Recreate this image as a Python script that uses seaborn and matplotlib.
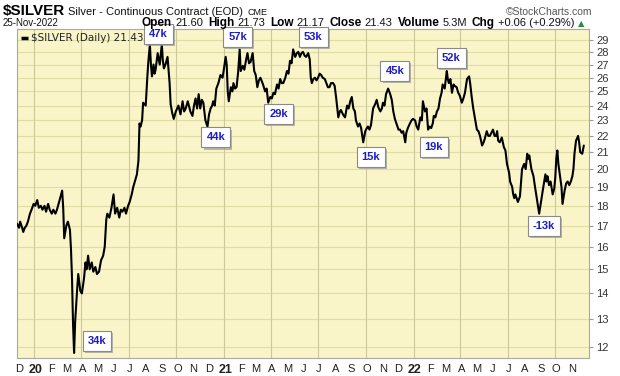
import pandas as pd
import matplotlib
matplotlib.use("Agg")
import matplotlib.pyplot as plt
import matplotlib.patheffects as pe
from matplotlib.ticker import NullLocator
import seaborn as sns

# === DATOS ===
dates = [
    "2019-11-29", "2019-12-03", "2019-12-05", "2019-12-09", "2019-12-11", "2019-12-14", "2019-12-17",
    "2019-12-20", "2019-12-24", "2019-12-27", "2019-12-31", "2020-01-03", "2020-01-07", "2020-01-10",
    "2020-01-14", "2020-01-17", "2020-01-21", "2020-01-24", "2020-01-28", "2020-01-31", "2020-02-04",
    "2020-02-07", "2020-02-11", "2020-02-14", "2020-02-18", "2020-02-21", "2020-02-24", "2020-02-26",
    "2020-02-28", "2020-03-03", "2020-03-06", "2020-03-10", "2020-03-12", "2020-03-14", "2020-03-16",
    "2020-03-18", "2020-03-20", "2020-03-24", "2020-03-26", "2020-03-30", "2020-04-02", "2020-04-06",
    "2020-04-09", "2020-04-11", "2020-04-14", "2020-04-17", "2020-04-21", "2020-04-24", "2020-04-28",
    "2020-05-01", "2020-05-05", "2020-05-09", "2020-05-13", "2020-05-16", "2020-05-19", "2020-05-21",
    "2020-05-25", "2020-05-29", "2020-06-02", "2020-06-05", "2020-06-09", "2020-06-13", "2020-06-16",
    "2020-06-19", "2020-06-23", "2020-06-26", "2020-06-30", "2020-07-03", "2020-07-07", "2020-07-10",
    "2020-07-14", "2020-07-17", "2020-07-20", "2020-07-22", "2020-07-24", "2020-07-27", "2020-07-29",
    "2020-08-03", "2020-08-06", "2020-08-08", "2020-08-11", "2020-08-13", "2020-08-15", "2020-08-18",
    "2020-08-20", "2020-08-22", "2020-08-26", "2020-08-30", "2020-09-01", "2020-09-03", "2020-09-05",
    "2020-09-07", "2020-09-10", "2020-09-14", "2020-09-16", "2020-09-18", "2020-09-20", "2020-09-23",
    "2020-09-26", "2020-09-30", "2020-10-05", "2020-10-09", "2020-10-13", "2020-10-16", "2020-10-19",
    "2020-10-23", "2020-10-28", "2020-11-01", "2020-11-04", "2020-11-07", "2020-11-10", "2020-11-13",
    "2020-11-16", "2020-11-19", "2020-11-22", "2020-11-26", "2020-11-30", "2020-12-03", "2020-12-06",
    "2020-12-09", "2020-12-11", "2020-12-14", "2020-12-17", "2020-12-21", "2020-12-25", "2020-12-29",
    "2020-12-31", "2021-01-04", "2021-01-06", "2021-01-08", "2021-01-10", "2021-01-14", "2021-01-17",
    "2021-01-19", "2021-01-22", "2021-01-25", "2021-01-28", "2021-01-31", "2021-02-02", "2021-02-06",
    "2021-02-09", "2021-02-12", "2021-02-15", "2021-02-18", "2021-02-21", "2021-02-25", "2021-02-28",
    "2021-03-03", "2021-03-06", "2021-03-09", "2021-03-12", "2021-03-17", "2021-03-21", "2021-03-24",
    "2021-03-27", "2021-03-31", "2021-04-03", "2021-04-06", "2021-04-09", "2021-04-13", "2021-04-16",
    "2021-04-19", "2021-04-22", "2021-04-25", "2021-04-29", "2021-05-02", "2021-05-05", "2021-05-08",
    "2021-05-11", "2021-05-14", "2021-05-18", "2021-05-21", "2021-05-24", "2021-05-27", "2021-05-30",
    "2021-06-02", "2021-06-05", "2021-06-08", "2021-06-12", "2021-06-15", "2021-06-17", "2021-06-19",
    "2021-06-22", "2021-06-25", "2021-06-28", "2021-07-01", "2021-07-04", "2021-07-07", "2021-07-10",
    "2021-07-14", "2021-07-17", "2021-07-20", "2021-07-23", "2021-07-26", "2021-07-30", "2021-08-02",
    "2021-08-05", "2021-08-09", "2021-08-12", "2021-08-14", "2021-08-18", "2021-08-22", "2021-08-26",
    "2021-08-29", "2021-09-01", "2021-09-04", "2021-09-07", "2021-09-10", "2021-09-12", "2021-09-16",
    "2021-09-19", "2021-09-22", "2021-09-26", "2021-09-30", "2021-10-03", "2021-10-05", "2021-10-08",
    "2021-10-11", "2021-10-15", "2021-10-19", "2021-10-22", "2021-10-25", "2021-10-29", "2021-11-01",
    "2021-11-03", "2021-11-06", "2021-11-09", "2021-11-13", "2021-11-17", "2021-11-20", "2021-11-23",
    "2021-11-26", "2021-12-01", "2021-12-03", "2021-12-06", "2021-12-09", "2021-12-12", "2021-12-16",
    "2021-12-18", "2021-12-21", "2021-12-25", "2021-12-28", "2021-12-31", "2022-01-04", "2022-01-07",
    "2022-01-10", "2022-01-14", "2022-01-17", "2022-01-19", "2022-01-23", "2022-01-26", "2022-01-29",
    "2022-02-01", "2022-02-04", "2022-02-07", "2022-02-09", "2022-02-12", "2022-02-15", "2022-02-18",
    "2022-02-21", "2022-02-24", "2022-02-26", "2022-03-02", "2022-03-06", "2022-03-08", "2022-03-10",
    "2022-03-13", "2022-03-16", "2022-03-19", "2022-03-21", "2022-03-25", "2022-03-28", "2022-03-31",
    "2022-04-04", "2022-04-07", "2022-04-10", "2022-04-14", "2022-04-18", "2022-04-20", "2022-04-23",
    "2022-04-26", "2022-04-29", "2022-05-03", "2022-05-06", "2022-05-09", "2022-05-13", "2022-05-16",
    "2022-05-18", "2022-05-22", "2022-05-25", "2022-05-28", "2022-05-31", "2022-06-03", "2022-06-06",
    "2022-06-09", "2022-06-11", "2022-06-13", "2022-06-16", "2022-06-20", "2022-06-24", "2022-06-27",
    "2022-06-30", "2022-07-04", "2022-07-06", "2022-07-10", "2022-07-12", "2022-07-14", "2022-07-16",
    "2022-07-21", "2022-07-25", "2022-07-29", "2022-08-02", "2022-08-05", "2022-08-08", "2022-08-10",
    "2022-08-12", "2022-08-16", "2022-08-20", "2022-08-23", "2022-08-27", "2022-08-31", "2022-09-04",
    "2022-09-08", "2022-09-12", "2022-09-14", "2022-09-16", "2022-09-19", "2022-09-22", "2022-09-26",
    "2022-09-29", "2022-10-01", "2022-10-03", "2022-10-05", "2022-10-07", "2022-10-11", "2022-10-13",
    "2022-10-15", "2022-10-19", "2022-10-22", "2022-10-25", "2022-10-28", "2022-10-31", "2022-11-03",
    "2022-11-05", "2022-11-07", "2022-11-10", "2022-11-14", "2022-11-16", "2022-11-18", "2022-11-22",
    "2022-11-25",
]

prices = [
    17.1, 16.9, 17.2, 16.9, 16.7, 16.9, 17.0,
    17.2, 17.6, 17.8, 18.1, 18.0, 18.3, 17.9,
    18.0, 17.8, 18.0, 17.7, 18.1, 17.8, 17.6,
    17.8, 17.6, 17.8, 18.2, 18.5, 18.8, 17.9,
    16.4, 17.0, 17.2, 16.8, 15.9, 14.6, 12.8,
    11.8, 12.9, 14.2, 14.8, 14.1, 14.0, 14.6,
    15.3, 15.0, 15.6, 15.0, 15.3, 14.9, 15.1,
    14.8, 14.9, 15.4, 15.6, 16.0, 17.3, 17.6,
    17.4, 17.9, 18.6, 17.6, 17.9, 17.4, 17.8,
    17.7, 17.9, 17.6, 18.0, 18.2, 18.6, 19.0,
    19.4, 19.7, 20.5, 22.8, 22.6, 23.0, 24.2,
    24.0, 26.0, 27.2, 28.6, 27.0, 26.1, 27.0,
    26.3, 26.6, 27.9, 27.0, 27.8, 28.6, 27.3,
    26.7, 27.0, 27.6, 26.6, 25.6, 24.1, 23.5,
    23.1, 23.6, 24.0, 23.4, 24.3, 23.6, 23.8,
    24.3, 23.6, 23.3, 24.0, 24.5, 23.8, 24.8,
    23.8, 24.4, 24.2, 23.0, 22.6, 23.4, 23.8,
    24.0, 24.3, 24.0, 25.2, 25.6, 26.2, 26.0,
    26.5, 27.6, 27.0, 25.0, 24.3, 25.3, 25.0,
    25.6, 25.2, 25.3, 26.4, 28.2, 26.5, 26.9,
    26.6, 27.3, 27.9, 27.1, 27.2, 27.9, 26.5,
    26.2, 25.3, 25.8, 26.0, 25.5, 25.0, 25.2,
    24.2, 24.6, 24.5, 24.9, 24.8, 25.5, 25.2,
    25.9, 25.6, 25.6, 26.0, 26.5, 26.3, 27.3,
    27.1, 28.2, 27.6, 27.9, 28.0, 27.6, 27.9,
    28.0, 27.7, 27.6, 27.9, 27.4, 26.0, 25.6,
    25.9, 26.0, 25.8, 26.0, 26.3, 26.2, 26.0,
    25.9, 25.6, 25.3, 25.3, 25.6, 25.6, 25.4,
    24.5, 23.2, 23.6, 23.7, 23.4, 23.2, 24.0,
    23.8, 24.3, 24.6, 23.8, 23.6, 23.0, 22.6,
    22.8, 22.5, 21.6, 22.3, 22.5, 22.6, 22.4,
    22.7, 23.8, 24.1, 24.4, 23.9, 23.6, 23.8,
    24.2, 24.0, 24.8, 25.2, 24.8, 24.4, 23.6,
    23.1, 22.6, 22.4, 22.4, 22.2, 22.3, 21.6,
    22.2, 22.5, 22.8, 23.0, 23.1, 23.0, 22.6,
    22.4, 23.2, 23.0, 24.3, 23.6, 23.8, 22.4,
    22.6, 22.5, 22.8, 23.3, 23.2, 23.6, 23.8,
    24.5, 24.9, 25.5, 25.2, 26.5, 25.9, 25.6,
    25.9, 24.9, 25.5, 25.4, 25.3, 24.9, 24.7,
    24.2, 24.5, 24.9, 25.9, 26.1, 25.6, 24.6,
    23.8, 23.2, 22.4, 22.3, 22.0, 21.4, 21.6,
    21.8, 22.3, 22.0, 22.0, 22.2, 22.4, 22.0,
    22.0, 22.3, 21.7, 21.6, 21.9, 21.3, 21.1,
    20.3, 19.8, 19.3, 19.0, 18.6, 18.4, 18.6,
    18.2, 18.5, 20.0, 20.3, 20.0, 20.9, 20.6,
    20.8, 20.0, 19.6, 19.0, 18.3, 17.6, 18.3,
    19.0, 19.7, 19.3, 19.6, 19.1, 19.3, 18.6,
    18.9, 19.5, 20.6, 21.1, 20.3, 19.4, 19.0,
    18.1, 18.8, 19.2, 19.3, 19.1, 19.3, 19.6,
    20.0, 20.9, 21.7, 22.0, 21.6, 21.0, 20.9,
    21.4,
]

# etiquetas (cajas) ancladas a fecha / precio
ann_labels = ["34k", "47k", "44k", "57k", "29k", "53k", "15k", "45k", "19k", "52k", "-13k"]
ann_dates = ["2020-05-01", "2020-08-28", "2020-12-16", "2021-01-27", "2021-04-16", "2021-06-22",
             "2021-10-11", "2021-11-26", "2022-02-09", "2022-03-15", "2022-09-09"]
ann_prices = [12.2, 29.5, 21.9, 29.2, 23.4, 29.2, 20.7, 26.5, 21.3, 27.5, 17.0]

y_ticks = list(range(12, 30))

df = pd.DataFrame({"date": pd.to_datetime(dates), "price": prices})

# === ESTILO ===
sns.set_theme(style="white")
plt.rcParams["font.family"] = ["Liberation Sans", "DejaVu Sans"]

W, H = 620, 376
fig = plt.figure(figsize=(W / 100, H / 100), dpi=100)
fig.patch.set_facecolor("white")
ax = fig.add_axes([17 / W, 1 - 358 / H, (589 - 17) / W, (358 - 29) / H])
ax.set_facecolor("#f9f5c8")

sns.lineplot(data=df, x="date", y="price", ax=ax, color="black", linewidth=1.5, zorder=3)

# === EJES ===
ax.set_yscale("log")
ax.set_ylim(11.63, 29.9)
ax.set_xlim(pd.Timestamp("2019-11-29"), pd.Timestamp("2022-12-05"))
ax.set_xlabel("")
ax.set_ylabel("")

ax.yaxis.tick_right()
ax.set_yticks(y_ticks)
ax.set_yticklabels([str(v) for v in y_ticks])
ax.yaxis.set_minor_locator(NullLocator())
ax.tick_params(axis="y", which="major", right=True, length=3, width=0.8, color="#999999",
               labelsize=8, labelcolor="#333333", pad=2)

month_starts = pd.date_range("2019-12-01", "2022-11-01", freq="MS")
month_labels = [d.strftime("%y") if d.month == 1 else d.strftime("%b")[0] for d in month_starts]
ax.set_xticks(month_starts + pd.Timedelta(days=2))
ax.set_xticklabels(month_labels)
ax.xaxis.set_minor_locator(NullLocator())
ax.tick_params(axis="x", length=0, labelsize=8, labelcolor="#222222", pad=4)
for lbl, d in zip(ax.get_xticklabels(), month_starts):
    if d.month == 1:
        lbl.set_fontweight("bold")
        lbl.set_fontsize(9)

# rejilla
ax.yaxis.grid(True, color="#e0dca6", linewidth=0.8, zorder=0)
ax.xaxis.grid(False)
for q in pd.date_range("2020-01-01", "2022-10-01", freq="QS"):
    ax.axvline(q, color="#ccc89a", linewidth=0.8, zorder=1)

for s in ax.spines.values():
    s.set_color("#a8a8a8")
    s.set_linewidth(0.8)

# leyenda interna
ax.plot([0.007, 0.019], [0.972, 0.972], transform=ax.transAxes, color="black", lw=2.5,
        solid_capstyle="butt", zorder=4)
ax.text(0.025, 0.972, "$SILVER (Daily) 21.43", transform=ax.transAxes, va="center", ha="left",
        fontsize=7.5, family="DejaVu Sans", color="#222222", zorder=4)

# cajas de volumen
for lab, d, p in zip(ann_labels, ann_dates, ann_prices):
    t = ax.text(pd.Timestamp(d), p, lab, ha="center", va="center", fontsize=8, fontweight="bold",
                color="#1c1cc8", zorder=7, clip_on=False,
                bbox=dict(boxstyle="square,pad=0.45", fc="white", ec="#8a8a8a", lw=0.8))
    t.get_bbox_patch().set_path_effects([
        pe.SimplePatchShadow(offset=(1.5, -1.5), shadow_rgbFace="#9a9a9a", alpha=0.7),
        pe.Normal(),
    ])

# === CABECERA ===
renderer = fig.canvas.get_renderer()


def run_text(x_px, y_px, pieces, align="left"):
    texts = []
    widths = []
    for txt, kw, gap in pieces:
        t = fig.text(0, 1 - y_px / H, txt, va="baseline", ha="left", **kw)
        texts.append(t)
        widths.append(t.get_window_extent(renderer).width + gap)
    total = sum(widths)
    x = x_px - total if align == "right" else x_px
    for t, w in zip(texts, widths):
        t.set_x(x / W)
        x += w


run_text(3, 15, [
    ("$SILVER", dict(fontsize=11, fontweight="bold", color="black"), 3),
    ("Silver - Continuous Contract (EOD)", dict(fontsize=8, color="#111111"), 4),
    ("CME", dict(fontsize=6.5, color="#111111"), 0),
])
fig.text(592 / W, 1 - 15 / H, "©StockCharts.com", ha="right", va="baseline", fontsize=7.5,
         color="#555555")
fig.text(3 / W, 1 - 26 / H, "25-Nov-2022", ha="left", va="baseline", fontsize=7,
         color="#111111")

b = dict(fontsize=8.5, fontweight="bold", color="black")
n = dict(fontsize=8, color="#111111")
run_text(584, 26, [
    ("Open", b, 3), ("21.60", n, 5),
    ("High", b, 3), ("21.73", n, 5),
    ("Low", b, 3), ("21.17", n, 5),
    ("Close", b, 3), ("21.43", n, 5),
    ("Volume", b, 3), ("5.3M", n, 5),
    ("Chg", b, 3), ("+0.06 (+0.29%)", n, 3),
    ("▲", dict(fontsize=6, color="#2e8b3a", family="DejaVu Sans"), 0),
], align="right")

plt.savefig("out.png", dpi=100, facecolor="white")
